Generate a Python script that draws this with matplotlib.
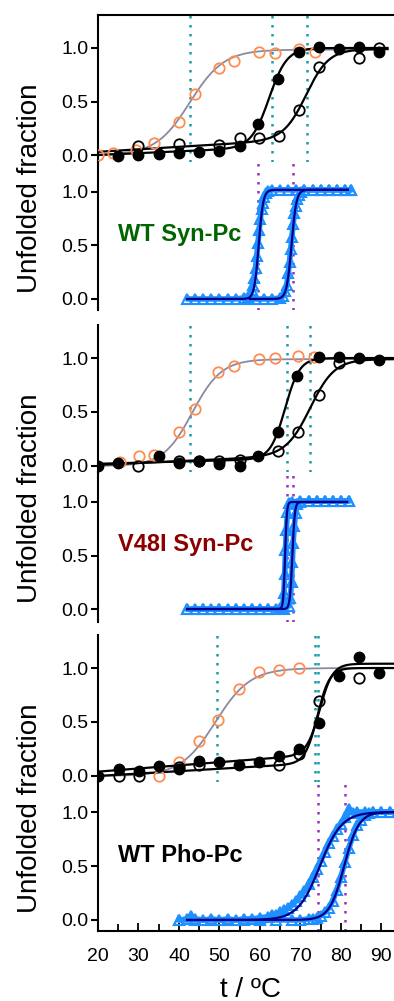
import numpy as np
import matplotlib.pyplot as plt

plt.rcParams['font.family'] = ['Liberation Sans', 'DejaVu Sans']

# ---------------- data ----------------
# WT Syn-Pc, upper panel (circles)
wt_syn_orange_t = [20.1, 23.8, 29.5, 33.8, 40.0, 43.9, 49.9, 53.7, 59.8, 63.6, 69.6, 73.6]
wt_syn_orange_v = [0.0, 0.02, 0.05, 0.115, 0.31, 0.57, 0.81, 0.88, 0.96, 0.95, 0.99, 0.96]
wt_syn_filled_t = [25, 30, 35, 40, 45, 50, 55, 59.6, 64.5, 69.6, 74.6, 79.5, 84.5, 89.4]
wt_syn_filled_v = [-0.01, 0.0, 0.01, 0.015, 0.03, 0.04, 0.08, 0.29, 0.71, 0.965, 1.01, 0.99, 1.005, 0.965]
wt_syn_open_t = [30, 40, 50, 55, 59.8, 64.7, 69.6, 74.6, 84.5, 89.4]
wt_syn_open_v = [0.085, 0.10, 0.095, 0.155, 0.155, 0.18, 0.42, 0.82, 0.91, 1.0]
# fit parameters: baseline b0, slope b1, Tm, width, top, T start, T end
wt_syn_fit_orange = [0.0, 0.0, 42.7, 4.2, 0.985, 20, 89.5]
wt_syn_fit_filled = [0.0, 0.0017, 62.3, 2.2, 1.0, 20, 91.5]
wt_syn_fit_open = [0.03, 0.0023, 71.5, 2.8, 0.99, 20, 91.5]
wt_syn_teal = [42.7, 62.9, 71.5]

# WT Syn-Pc, lower panel (triangles)
wt_syn_tri1_t = [42, 44, 46, 48, 50, 52, 54, 56, 57, 57.5, 58, 58.3, 58.6, 58.9, 59.2, 59.5,
                 59.8, 60.1, 60.4, 60.7, 61, 61.5, 62, 63, 65, 67, 69, 71, 73, 75, 77, 79, 81, 82.5]
wt_syn_tri1_v = [0, 0, 0, 0, 0, 0, 0, 0.01, 0.02, 0.04, 0.08, 0.13, 0.2, 0.29, 0.4, 0.52,
                 0.64, 0.75, 0.84, 0.9, 0.95, 0.99, 1.01, 1.02, 1.02, 1.02, 1.02, 1.02, 1.02, 1.02, 1.02, 1.02, 1.02, 1.02]
wt_syn_tri2_t = [57, 59, 61, 63, 65, 65.8, 66.2, 66.6, 67, 67.3, 67.6, 67.9, 68.2, 68.5, 68.8,
                 69.2, 69.6, 70.2, 71, 73, 75, 77, 79, 81, 82.5]
wt_syn_tri2_v = [0, 0, 0, 0, 0.01, 0.03, 0.07, 0.13, 0.24, 0.35, 0.47, 0.58, 0.7, 0.8, 0.87,
                 0.93, 0.97, 1.0, 1.02, 1.02, 1.02, 1.02, 1.02, 1.02, 1.02]
wt_syn_fit_tri1 = [0.0, 0.0, 59.7, 0.55, 1.02, 42, 81.7]
wt_syn_fit_tri2 = [0.0, 0.0, 67.8, 0.6, 1.02, 57.5, 81.7]
wt_syn_purple = [59.4, 68.1]

# V48I Syn-Pc, upper panel
v48_orange_t = [25.4, 30.2, 33.8, 40.0, 44.0, 49.7, 53.7, 59.8, 63.6, 69.5, 73.3]
v48_orange_v = [0.04, 0.09, 0.10, 0.31, 0.53, 0.87, 0.93, 0.99, 1.0, 1.02, 1.01]
v48_filled_t = [20, 25, 35, 40, 45, 50, 55, 59.6, 64.5, 69.1, 74.6, 79.5, 84.5, 89.3]
v48_filled_v = [0.0, 0.025, 0.09, 0.03, 0.05, 0.02, 0.0, 0.095, 0.31, 0.83, 1.01, 1.01, 1.0, 0.985]
v48_open_t = [30, 40, 45, 50, 55, 64.5, 69.5, 74.6, 79.5]
v48_open_v = [0.0, 0.05, 0.045, 0.05, 0.055, 0.14, 0.31, 0.66, 0.95]
v48_fit_orange = [0.0, 0.0, 43.3, 3.6, 0.99, 20, 95]
v48_fit_filled = [0.02, 0.001, 66.2, 1.8, 1.0, 20, 95]
v48_fit_open = [0.01, 0.0017, 72.5, 3.0, 0.99, 20, 95]
v48_teal = [42.7, 66.6, 72.4]

# V48I Syn-Pc, lower panel
v48_tri1_t = [42, 44, 46, 48, 50, 52, 54, 56, 58, 60, 62, 64, 65, 65.6, 65.9, 66.1, 66.3, 66.5,
              66.8, 67.2, 68, 70, 72, 74, 76, 78, 80, 82]
v48_tri1_v = [0, 0, 0, 0, 0, 0, 0, 0, 0, 0, 0, 0, 0.01, 0.03, 0.15, 0.33, 0.55, 0.74,
              0.91, 0.99, 1.0, 1.01, 1.01, 1.01, 1.01, 1.01, 1.01, 1.01]
v48_tri2_t = [42, 46, 50, 54, 58, 62, 66, 67.2, 67.5, 67.8, 68.0, 68.2, 68.5, 68.8, 69.2, 70,
              72, 74, 76, 78, 80, 82]
v48_tri2_v = [0, 0, 0, 0, 0, 0, 0, 0.03, 0.1, 0.25, 0.44, 0.62, 0.78, 0.9, 0.98, 1.0,
              1.01, 1.01, 1.01, 1.01, 1.01, 1.01]
v48_fit_tri1 = [0.0, 0.0, 66.2, 0.22, 1.0, 42, 81.5]
v48_fit_tri2 = [0.0, 0.0, 68.0, 0.3, 1.0, 42, 81.5]
v48_purple = [66.6, 68.2]

# WT Pho-Pc, upper panel
pho_orange_t = [35.1, 40, 44.9, 49.7, 54.8, 59.8, 64.7, 69.6]
pho_orange_v = [0.0, 0.13, 0.32, 0.52, 0.81, 0.96, 0.98, 1.0]
pho_filled_t = [20, 25.2, 30.2, 35.1, 40, 44.9, 49.9, 54.8, 59.8, 64.7, 69.6, 74.6, 79.5, 84.5, 89.4]
pho_filled_v = [0.0, 0.065, 0.05, 0.09, 0.06, 0.14, 0.13, 0.10, 0.13, 0.185, 0.25, 0.49, 0.93, 1.10, 0.95]
pho_open_t = [25.2, 30.2, 40, 44.9, 64.7, 69.6, 74.6, 84.5]
pho_open_v = [0.0, 0.0, 0.08, 0.1, 0.1, 0.2, 0.69, 0.91]
pho_fit_orange = [0.0, 0.0, 49.0, 4.3, 1.0, 20, 95]
pho_fit_filled = [0.04, 0.0029, 74.8, 1.6, 1.04, 20, 95]
pho_fit_open = [0.0, 0.0022, 74.2, 1.5, 1.0, 20, 95]
pho_teal = [49.3, 73.6, 74.3]

# WT Pho-Pc, lower panel
pho_tri1_t = [40, 42, 43, 44, 46, 48, 50, 52, 54, 56, 58, 60, 62, 63, 64, 65, 66, 67, 68, 69, 70,
              71, 72, 73, 74, 75, 76, 77, 78, 79, 80, 81, 82, 83, 84, 86, 88, 90, 92, 94]
pho_tri1_v = [0.0, 0.01, 0.04, 0.01, 0.0, 0.01, 0.0, 0.01, 0.0, 0.01, 0.01, 0.02, 0.03, 0.05, 0.05,
              0.07, 0.09, 0.11, 0.14, 0.18, 0.22, 0.27, 0.33, 0.4, 0.47, 0.55, 0.63, 0.71, 0.78,
              0.84, 0.89, 0.95, 1.03, 0.99, 1.0, 1.0, 1.0, 1.0, 1.0, 1.0]
pho_tri2_t = [40, 44, 48, 52, 56, 60, 64, 68, 70, 72, 73, 74, 75, 76, 77, 78, 79, 80, 81, 82, 83,
              84, 85, 86, 87, 88, 90, 92, 94]
pho_tri2_v = [0.0, 0.0, 0.0, 0.0, 0.0, 0.0, 0.0, 0.0, 0.0, 0.01, 0.01, 0.02, 0.04, 0.07, 0.11,
              0.18, 0.28, 0.4, 0.54, 0.67, 0.79, 0.88, 0.93, 0.97, 0.99, 1.0, 1.0, 1.0, 1.0]
pho_fit_tri1 = [0.0, 0.0, 74.8, 2.7, 1.0, 42, 95]
pho_fit_tri2 = [0.0, 0.0, 80.8, 1.8, 1.0, 42, 95]
pho_purple = [74.3, 81.0]

labels = ['WT Syn-Pc', 'V48I Syn-Pc', 'WT Pho-Pc']
label_colors = ['#006400', '#8B0000', 'black']

# ---------------- style ----------------
BLUE = '#1E90FF'
NAVY = '#00008B'
TEAL = '#1A9AAA'
PURPLE = '#9B30C0'
ORANGE = '#FF8C50'
GREY = '#8A8AA2'

W, H = 394, 1001
PX_PER_DEG = 4.049
fig = plt.figure(figsize=(W / 100, H / 100), dpi=100)


def melt(p):
    b0, b1, tm, w, top, t0, t1 = p
    t = np.linspace(t0, t1, 400)
    f = 1 / (1 + np.exp(-(t - tm) / w))
    base = b0 + b1 * (t - 20)
    return t, base * (1 - f) + top * f


def make_ax(top_px, bot_px, ylim):
    ax = fig.add_axes([98 / W, 1 - bot_px / H, 75 * PX_PER_DEG / W, (bot_px - top_px) / H])
    ax.set_xlim(20, 95)
    ax.set_ylim(*ylim)
    for s in ['top', 'right', 'bottom']:
        ax.spines[s].set_visible(False)
    ax.spines['left'].set_linewidth(1.5)
    ax.set_yticks([0, 0.5, 1.0])
    ax.set_yticklabels(['0.0', '0.5', '1.0'])
    ax.tick_params(axis='y', direction='out', length=5, width=1.5, labelsize=14, pad=2)
    ax.tick_params(axis='x', bottom=False, labelbottom=False)
    ax.patch.set_alpha(0)
    return ax


groups = [
    dict(top=(15, 162, (-0.065, 1.308)), bot=(162, 310, (-0.103, 1.28)),
         orange=(wt_syn_orange_t, wt_syn_orange_v), filled=(wt_syn_filled_t, wt_syn_filled_v),
         opn=(wt_syn_open_t, wt_syn_open_v),
         fits=(wt_syn_fit_orange, wt_syn_fit_filled, wt_syn_fit_open), teal=wt_syn_teal,
         tri=[(wt_syn_tri1_t, wt_syn_tri1_v), (wt_syn_tri2_t, wt_syn_tri2_v)],
         trifits=(wt_syn_fit_tri1, wt_syn_fit_tri2), purple=wt_syn_purple, ylab=188),
    dict(top=(325, 472, (-0.056, 1.306)), bot=(472, 622, (-0.121, 1.28)),
         orange=(v48_orange_t, v48_orange_v), filled=(v48_filled_t, v48_filled_v),
         opn=(v48_open_t, v48_open_v),
         fits=(v48_fit_orange, v48_fit_filled, v48_fit_open), teal=v48_teal,
         tri=[(v48_tri1_t, v48_tri1_v), (v48_tri2_t, v48_tri2_v)],
         trifits=(v48_fit_tri1, v48_fit_tri2), purple=v48_purple, ylab=498),
    dict(top=(635, 782, (-0.056, 1.306)), bot=(782, 931, (-0.102, 1.278)),
         orange=(pho_orange_t, pho_orange_v), filled=(pho_filled_t, pho_filled_v),
         opn=(pho_open_t, pho_open_v),
         fits=(pho_fit_orange, pho_fit_filled, pho_fit_open), teal=pho_teal,
         tri=[(pho_tri1_t, pho_tri1_v), (pho_tri2_t, pho_tri2_v)],
         trifits=(pho_fit_tri1, pho_fit_tri2), purple=pho_purple, ylab=808),
]

dotted = (0, (1, 2.6))

for i, g in enumerate(groups):
    # upper panel: circles
    ax = make_ax(*g['top'])
    if i == 0:
        ax.spines['top'].set_visible(True)
        ax.spines['top'].set_linewidth(1.5)
    for x in g['teal']:
        ax.axvline(x, color=TEAL, ls=dotted, lw=1.8, zorder=1)
    t, y = melt(g['fits'][0])
    ax.plot(t, y, color=GREY, lw=1.3, zorder=2)
    for p in g['fits'][1:]:
        t, y = melt(p)
        ax.plot(t, y, color='black', lw=1.6, zorder=2)
    ax.plot(*g['orange'], ls='none', marker='o', ms=7.5, mfc='none', mec=ORANGE, mew=1.3, zorder=3)
    ax.plot(*g['opn'], ls='none', marker='o', ms=7.5, mfc='none', mec='black', mew=1.3, zorder=3)
    ax.plot(*g['filled'], ls='none', marker='o', ms=7.5, mfc='black', mec='black', zorder=3)

    # lower panel: triangles
    ax2 = make_ax(*g['bot'])
    for x in g['purple']:
        ax2.axvline(x, color=PURPLE, ls=dotted, lw=1.8, zorder=1)
    for tt, vv in g['tri']:
        ax2.plot(tt, vv, color=BLUE, lw=4.0, solid_capstyle='round', zorder=2)
        ax2.plot(tt, vv, ls='none', marker='^', ms=7, mfc='none', mec=BLUE, mew=1.5, zorder=2)
    for p in g['trifits']:
        t, y = melt(p)
        ax2.plot(t, y, color=NAVY, lw=1.6, zorder=3)
    ax2.text(24.9, 0.6, labels[i], color=label_colors[i], fontsize=17, fontweight='bold',
             ha='left', va='center')

    fig.text(30 / W, 1 - g['ylab'] / H, 'Unfolded fraction', rotation=90, fontsize=20,
             ha='center', va='center')

    if i == 2:
        ax2.spines['bottom'].set_visible(True)
        ax2.spines['bottom'].set_linewidth(1.5)
        ax2.set_xticks(np.arange(20, 100, 10))
        ax2.set_xticks(np.arange(25, 100, 10), minor=True)
        ax2.tick_params(axis='x', which='both', bottom=True, labelbottom=True, direction='in',
                        width=1.3, labelsize=14, pad=12)
        ax2.tick_params(axis='x', which='major', length=6)
        ax2.tick_params(axis='x', which='minor', length=5)

fig.text(250 / W, 1 - 990 / H, 't / ºC', fontsize=20, ha='center', va='center')

fig.savefig('out.png', dpi=100)
